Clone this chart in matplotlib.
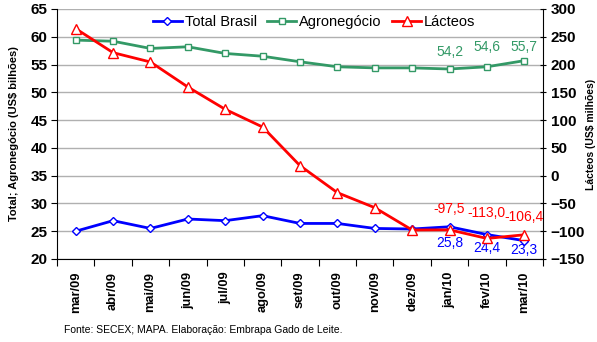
import matplotlib
matplotlib.use("Agg")
import matplotlib.pyplot as plt

plt.rcParams['font.family'] = ['Liberation Sans', 'DejaVu Sans']

months = ["mar/09", "abr/09", "mai/09", "jun/09", "jul/09", "ago/09", "set/09",
          "out/09", "nov/09", "dez/09", "jan/10", "fev/10", "mar/10"]
total_brasil = [25.0, 26.9, 25.5, 27.2, 26.9, 27.8, 26.4, 26.4, 25.5, 25.4, 25.8, 24.4, 23.3]
agronegocio = [59.4, 59.2, 57.9, 58.2, 57.0, 56.5, 55.5, 54.6, 54.4, 54.4, 54.2, 54.6, 55.7]
lacteos = [264.6, 221.4, 204.6, 159.6, 119.4, 87.6, 18.0, -30.6, -57.6, -97.8, -97.5, -113.0, -106.4]

c_total = "#0000FF"
c_agro = "#339966"
c_lact = "#FF0000"

fig = plt.figure(figsize=(5.97, 3.42), dpi=100)
ax = fig.add_axes([57/597, 1-259/342, 486/597, 250/342])
ax2 = ax.twinx()

x = list(range(len(months)))
l1, = ax.plot(x, total_brasil, color=c_total, lw=2.0, marker="D", ms=4.5,
              mfc="white", mec=c_total, mew=1.0, label="Total Brasil", zorder=4)
l2, = ax.plot(x, agronegocio, color=c_agro, lw=2.0, marker="s", ms=5,
              mfc="white", mec=c_agro, mew=1.0, label="Agronegócio", zorder=4)
l3, = ax2.plot(x, lacteos, color=c_lact, lw=2.0, marker="^", ms=7,
               mfc="white", mec=c_lact, mew=1.0, label="Lácteos", zorder=4)

ax.set_xlim(-0.5, len(months) - 0.5)
ax.set_ylim(20, 65)
ax.set_yticks(range(20, 66, 5))
ax2.set_ylim(-150, 300)
ax2.set_yticks(range(-150, 301, 50))

ax.yaxis.grid(True, color="#B0B0B0", lw=1.0)
ax.set_axisbelow(True)

for a in (ax, ax2):
    a.spines['top'].set_visible(False)
ax.spines['right'].set_visible(False)
ax2.spines['left'].set_visible(False)
ax2.spines['bottom'].set_visible(False)

# category boundaries carry the tick marks, labels sit at the category centres
ax.set_xticks([i + 0.5 for i in range(-1, len(months))], minor=False)
ax.set_xticklabels([])
ax.set_xticks(x, minor=True)
ax.set_xticklabels(months, minor=True, rotation=90, fontsize=9.3, fontweight="bold")
ax.tick_params(axis="x", which="major", length=5, direction="out")
ax.tick_params(axis="x", which="minor", length=0, pad=9)
ax.tick_params(axis="y", labelsize=11, length=4, direction="out", pad=3)
for t in ax.get_yticklabels():
    t.set_fontweight("bold")
ax2.tick_params(axis="y", labelsize=11, length=5, direction="inout", pad=3)
for t in ax2.get_yticklabels():
    t.set_fontweight("bold")

ax.set_ylabel("Total; Agronegócio (US$ bilhões)", fontsize=8, fontweight="bold", labelpad=8)
ax2.set_ylabel("Lácteos (US$ milhões)", fontsize=7.5, fontweight="bold", rotation=90, labelpad=1)

def fmt(v):
    return f"{v:.1f}".replace(".", ",")

# (index, vertical offset in points) for each value label
agro_lbl = [(10, 12), (11, 14), (12, 10)]
total_lbl = [(10, -12), (11, -10), (12, -7)]
lact_lbl = [(10, 15), (11, 18), (12, 13)]

for i, dy in agro_lbl:
    ax.annotate(fmt(agronegocio[i]), (x[i], agronegocio[i]), xytext=(0, dy),
                textcoords="offset points", ha="center", va="center",
                color=c_agro, fontsize=10)
for i, dy in total_lbl:
    ax.annotate(fmt(total_brasil[i]), (x[i], total_brasil[i]), xytext=(0, dy),
                textcoords="offset points", ha="center", va="center",
                color=c_total, fontsize=10)
for i, dy in lact_lbl:
    ax2.annotate(fmt(lacteos[i]), (x[i], lacteos[i]), xytext=(0, dy),
                 textcoords="offset points", ha="center", va="center",
                 color=c_lact, fontsize=10)

ax2.legend(handles=[l1, l2, l3], loc="center", bbox_to_anchor=(0.529, 1 - 13/250),
           ncol=3, frameon=False, fontsize=10.5, handlelength=2.0,
           columnspacing=0.7, handletextpad=0.2, borderpad=0.2)

fig.text(64/597, 1-330/342, "Fonte: SECEX; MAPA. Elaboração: Embrapa Gado de Leite.",
         fontsize=7.5, va="center", ha="left")

fig.savefig("out.png", dpi=100)
